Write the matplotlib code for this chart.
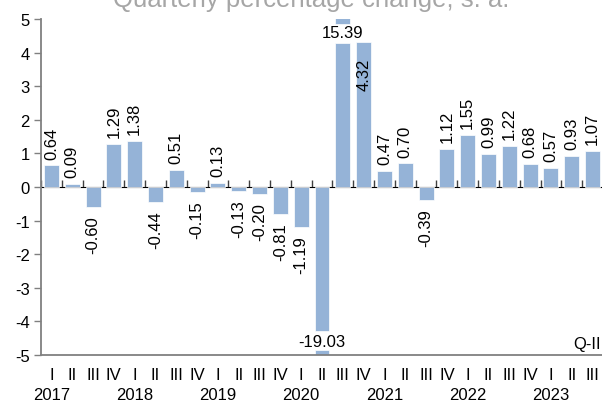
import numpy as np
import matplotlib.pyplot as plt

plt.rcParams['font.family'] = ['Liberation Sans', 'DejaVu Sans']
plt.rcParams['axes.unicode_minus'] = False

years = ['2017', '2018', '2019', '2020', '2021', '2022', '2023']
quarters = ['I', 'II', 'III', 'IV']
values = [0.64, 0.09, -0.60, 1.29,
          1.38, -0.44, 0.51, -0.15,
          0.13, -0.13, -0.20, -0.81,
          -1.19, -19.03, 15.39, 4.32,
          0.47, 0.70, -0.39, 1.12,
          1.55, 0.99, 1.22, 0.68,
          0.57, 0.93, 1.07]

bar_color = '#95b3d7'
axis_color = '#808080'
ymin, ymax = -5, 5
cut = 4.28       # where an off-scale bar is broken
stub = 4.86      # where the small piece beyond the break starts

labels = []
for i in range(len(values)):
    q = quarters[i % 4]
    if i % 4 == 0:
        q = q + '\n' + years[i // 4]
    labels.append(q)

fig = plt.figure(figsize=(6.02, 4.02), dpi=100)
ax = fig.add_axes([41 / 602, 1 - 356 / 402, 562 / 602, 336 / 402])

x = np.arange(len(values))
for xi, v in zip(x, values):
    if abs(v) > ymax:
        s = np.sign(v)
        ax.bar(xi, s * cut, width=0.72, color=bar_color, edgecolor='white', linewidth=0.5)
        ax.bar(xi, s * 0.4, bottom=s * stub, width=0.72, color=bar_color,
               edgecolor='white', linewidth=0.5)
        ax.text(xi, s * 4.6, f'{v:.2f}', ha='center', va='center', fontsize=12)
    else:
        ax.bar(xi, v, width=0.72, color=bar_color, edgecolor='white', linewidth=0.5)
        if v >= 0 and v + 1.1 > ymax:
            ax.annotate(f'{v:.2f}', (xi, v), xytext=(0, -11), textcoords='offset points',
                        rotation=90, ha='center', va='top', fontsize=12)
        elif v >= 0:
            ax.annotate(f'{v:.2f}', (xi, v), xytext=(0, 5), textcoords='offset points',
                        rotation=90, ha='center', va='bottom', fontsize=12)
        else:
            ax.annotate(f'{v:.2f}', (xi, v), xytext=(0, -6), textcoords='offset points',
                        rotation=90, ha='center', va='top', fontsize=12)

ax.set_xlim(-0.5, len(values) - 0.5)
ax.set_ylim(ymin, ymax)
ax.set_yticks(range(ymin, ymax + 1))
ax.set_xticks(x)
ax.set_xticklabels(labels, linespacing=1.4)
ax.tick_params(axis='x', length=0, pad=9, labelsize=12)
ax.tick_params(axis='y', direction='out', length=5, width=1, color=axis_color,
               labelsize=12, pad=3)

for side in ['top', 'right']:
    ax.spines[side].set_visible(False)
for side in ['left', 'bottom']:
    ax.spines[side].set_color(axis_color)
    ax.spines[side].set_linewidth(1.3)

# zero line with category separators
zero = ax.secondary_xaxis((0 - ymin) / (ymax - ymin))
zero.set_xticks(np.arange(len(values) + 1) - 0.5)
zero.set_xticklabels([])
zero.tick_params(direction='out', length=5, width=1, color='#404040')
zero.spines['bottom'].set_color(axis_color)
zero.spines['bottom'].set_linewidth(1.3)

ax.text(0.996, 0.035, 'Q-II', transform=ax.transAxes, ha='right', va='center', fontsize=12)

fig.text(311 / 602, 1 - 7 / 402, 'Quarterly percentage change, s. a.',
         ha='center', va='baseline', fontsize=18.5, color='#a6a6a6')

fig.savefig('out.png', dpi=100)
